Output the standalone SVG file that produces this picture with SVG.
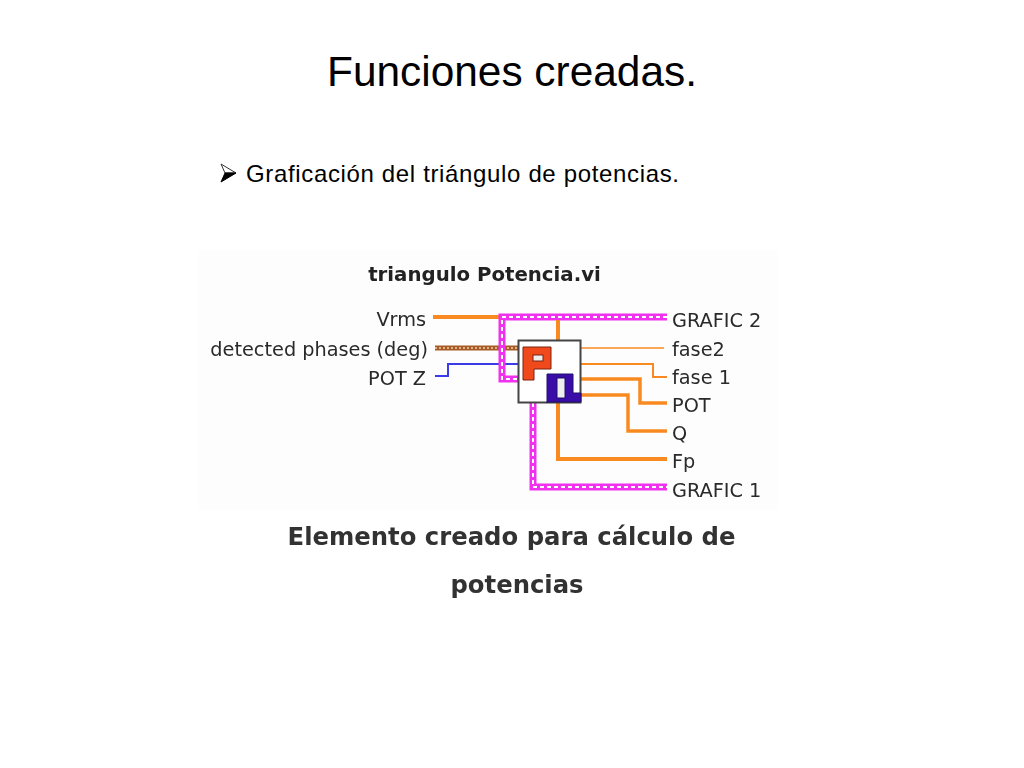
<svg xmlns="http://www.w3.org/2000/svg" width="1024" height="768" viewBox="0 0 1024 768">
<defs><filter id="soft" x="-5%" y="-5%" width="110%" height="110%"><feGaussianBlur stdDeviation="0.45"/></filter></defs>
<style>
.l{font-family:"DejaVu Sans","Liberation Sans",sans-serif;font-size:19.3px;fill:#2a2a2a}
.e{text-anchor:end}
.c{font-family:"DejaVu Sans","Liberation Sans",sans-serif;font-weight:bold;font-size:24.3px;fill:#333;text-anchor:middle}
.w{fill:none;stroke-linejoin:miter}
.o{stroke:#f98a22}
.m{stroke:#f030f0;stroke-width:7}
.d{stroke:#fff;stroke-width:2;stroke-dasharray:4 3}
</style>
<rect x="198" y="250" width="580" height="260" fill="#fdfdfd"/>
<text id="title" x="512" y="86" text-anchor="middle" font-family="Liberation Sans, Arial, sans-serif" font-size="42.4" fill="#000">Funciones creadas.</text>
<g id="bullet">
<path d="M221 164L236 173H225Z" fill="#fff" stroke="#333" stroke-width="1"/>
<path d="M221 182L236 173H225Z" fill="#000" stroke="#000" stroke-width="1"/>
<text x="246" y="182" font-family="Liberation Sans, Arial, sans-serif" font-size="24" letter-spacing="0.65" fill="#000">Graficación del triángulo de potencias.</text>
</g>
<g filter="url(#soft)">
<text id="vi-title" x="484.500" y="281" text-anchor="middle" font-family="DejaVu Sans, sans-serif" font-weight="bold" font-size="19.75" fill="#222">triangulo Potencia.vi</text>
<g id="connectors">
<path class="w o" stroke-width="4" d="M433 317H499"/>
<path class="w" stroke="#a85a28" stroke-width="5" d="M435 348H518"/>
<path class="w" stroke="#f0d0a0" stroke-width="1.5" stroke-dasharray="2 2" d="M435 348H518"/>
<path class="w" stroke="#3a3ae8" stroke-width="2" d="M435 376H448V364H518"/>
<path class="w m" d="M667 317H502V379H518"/>
<path class="w d" d="M667 317H502V379H518"/>
<path class="w m" d="M533 403V487H667"/>
<path class="w d" d="M533 403V487H667"/>
<path class="w o" stroke-width="4" d="M558 320V340"/>
<path class="w o" stroke-width="1.5" d="M581 348H664"/>
<path class="w o" stroke-width="2" d="M581 364H653V377H667"/>
<path class="w o" stroke-width="3.500" d="M581 379H640V403H667"/>
<path class="w o" stroke-width="3.500" d="M581 395H628V431H667"/>
<path class="w o" stroke-width="4" d="M558 403V459H667"/>
</g>
<g id="icon">
<rect x="518.500" y="340.500" width="62" height="62" fill="#fff" stroke="#444" stroke-width="2"/>
<path d="M523 347H551V369H534V380H523Z" fill="#f0481a" stroke="#7a2010"/>
<rect x="533" y="355" width="10" height="6" fill="#eee" stroke="#7a2010"/>
<path d="M547 403V374H573V393H581V402H547Z" fill="#3a10a8" stroke="#20106a"/>
<rect x="557" y="378" width="8" height="20" fill="#eee" stroke="#20106a"/>
</g>
<g id="inputs">
<text class="l e" x="426" y="326">Vrms</text>
<text class="l e" x="428" y="356">detected phases (deg)</text>
<text class="l e" x="426" y="385">POT Z</text>
</g>
<g id="outputs">
<text class="l" x="672" y="327">GRAFIC 2</text>
<text class="l" x="672" y="356">fase2</text>
<text class="l" x="672" y="384">fase 1</text>
<text class="l" x="672" y="412">POT</text>
<text class="l" x="672" y="440">Q</text>
<text class="l" x="672" y="468">Fp</text>
<text class="l" x="672" y="497">GRAFIC 1</text>
</g>
<g id="caption">
<text class="c" x="511.500" y="545">Elemento creado para cálculo de</text>
<text class="c" x="517" y="593">potencias</text>
</g>
</g>
</svg>
